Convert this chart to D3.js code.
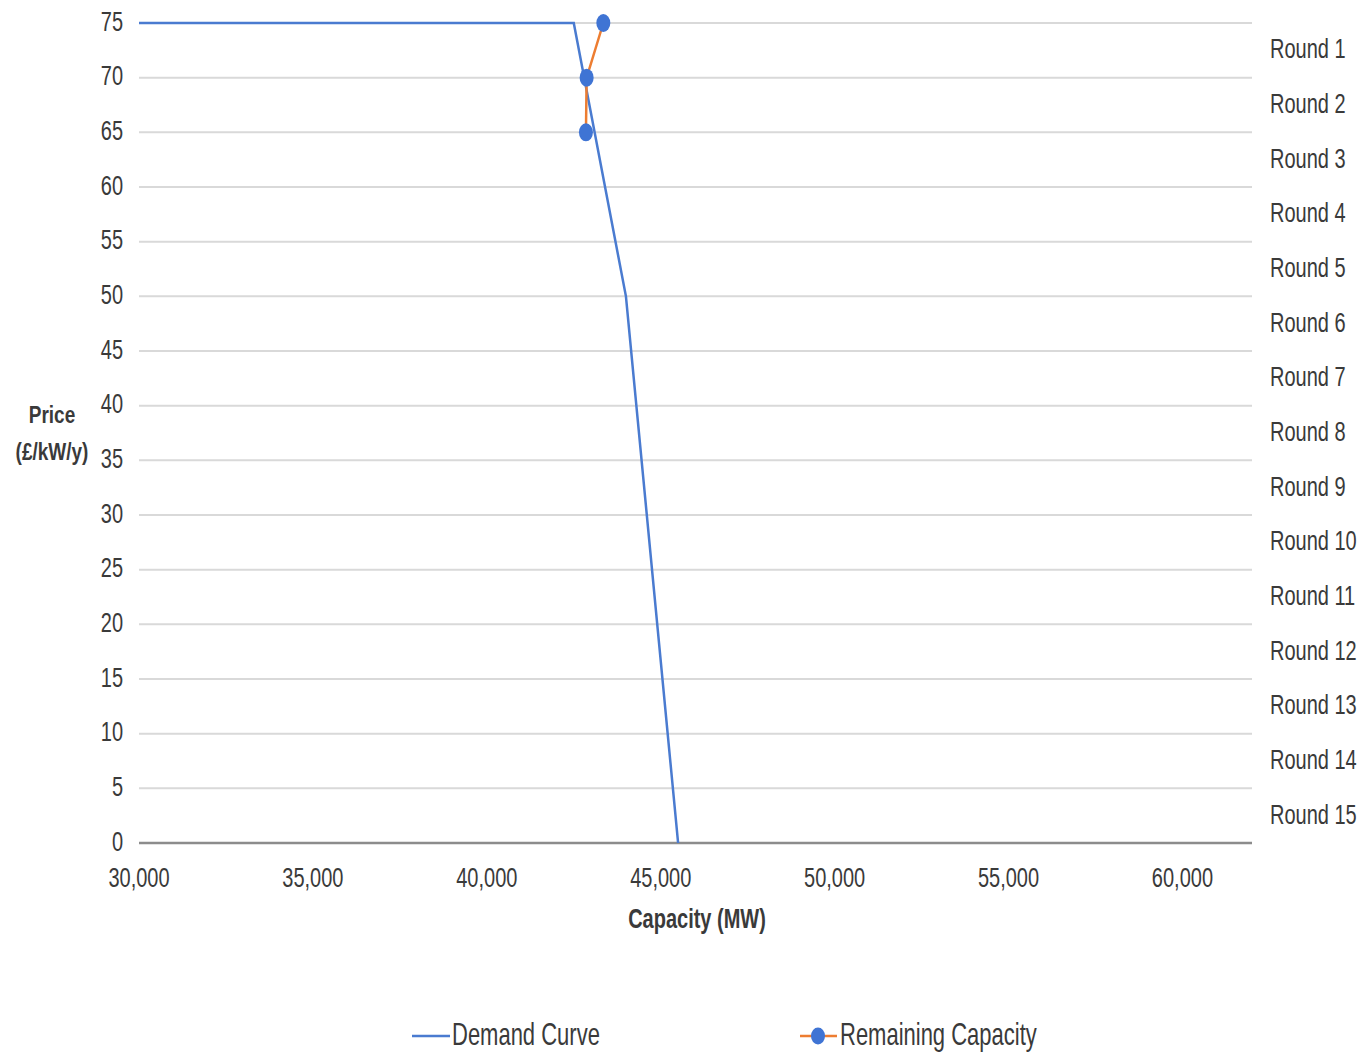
<!DOCTYPE html>
<html><head><meta charset="utf-8">
<script src="https://cdn.jsdelivr.net/npm/d3@7"></script>
<style>body{margin:0;background:#fff;} text{font-family:"Liberation Sans",Arial,sans-serif;fill:#3a3a3a;}</style>
</head><body>
<svg id="c" width="1361" height="1054"></svg>
<script>
const demandCapacity = [30000, 42500, 44000, 45500];
const demandPrice = [75, 75, 50, 0];
const remainingCapacity = [43350, 42870, 42850];
const remainingPrice = [75, 70, 65];
const yTicks = [0,5,10,15,20,25,30,35,40,45,50,55,60,65,70,75];
const xTicks = [30000,35000,40000,45000,50000,55000,60000];
const roundLabels = ["Round 1","Round 2","Round 3","Round 4","Round 5","Round 6","Round 7","Round 8","Round 9","Round 10","Round 11","Round 12","Round 13","Round 14","Round 15"];
const roundPrices = [72.5,67.5,62.5,57.5,52.5,47.5,42.5,37.5,32.5,27.5,22.5,17.5,12.5,7.5,2.5];

const svg = d3.select("#c");
const L=139, R=1252, T=23, B=843, SY=1.42;
const x = d3.scaleLinear().domain([30000,62000]).range([L,R]);
const y = d3.scaleLinear().domain([0,75]).range([B,T]);

function txt(g, xx, yy, s, opts){
  const t = g.append("text").attr("transform",`translate(${xx},${yy}) scale(1,${opts.sy||SY})`)
    .attr("font-size",opts.size).attr("text-anchor",opts.anchor||"start")
    .attr("font-weight",opts.weight||"normal").text(s);
  if(opts.fill) t.style("fill",opts.fill);
  return t;
}

// gridlines
svg.append("g").selectAll("line").data(yTicks.filter(d=>d>0)).join("line")
  .attr("x1",L).attr("x2",R).attr("y1",d=>y(d)).attr("y2",d=>y(d))
  .attr("stroke","#d9d9d9").attr("stroke-width",2);
svg.append("line").attr("x1",L).attr("x2",R).attr("y1",y(0)).attr("y2",y(0))
  .attr("stroke","#8c8c8c").attr("stroke-width",2.5);

// y tick labels
const gy = svg.append("g");
yTicks.forEach(d=> txt(gy, 123, y(d)+7.5, d3.format("d")(d), {size:20, anchor:"end"}));
// x tick labels
const gx = svg.append("g");
xTicks.forEach(d=> txt(gx, x(d), 887, d3.format(",")(d), {size:20, anchor:"middle"}));

// axis titles
const gt = svg.append("g");
txt(gt, 52, 423, "Price", {size:19, anchor:"middle", weight:"bold", sy:1.3});
txt(gt, 52, 460, "(£/kW/y)", {size:19, anchor:"middle", weight:"bold", sy:1.3});
txt(gt, 697, 928, "Capacity (MW)", {size:20, anchor:"middle", weight:"bold", sy:1.35});

// round labels
const gr = svg.append("g");
roundLabels.forEach((s,i)=> txt(gr, 1270, y(roundPrices[i])+8, s, {size:20}));

// demand curve
const line = d3.line().x(d=>x(d[0])).y(d=>y(d[1]));
svg.append("path").datum(d3.zip(demandCapacity, demandPrice)).attr("d",line)
  .attr("fill","none").attr("stroke","#4a7bd0").attr("stroke-width",2.5);

// remaining capacity
const rc = d3.zip(remainingCapacity, remainingPrice);
svg.append("path").datum(rc).attr("d",line)
  .attr("fill","none").attr("stroke","#ed7d31").attr("stroke-width",2.5);
svg.append("g").selectAll("ellipse").data(rc).join("ellipse")
  .attr("cx",d=>x(d[0])).attr("cy",d=>y(d[1])).attr("rx",7).attr("ry",9)
  .attr("fill","#3f74d4");

// legend
const lg = svg.append("g");
lg.append("line").attr("x1",412).attr("x2",450).attr("y1",1036).attr("y2",1036).attr("stroke","#4a7bd0").attr("stroke-width",2.5);
txt(lg, 452, 1045, "Demand Curve", {size:22});
lg.append("line").attr("x1",800).attr("x2",837).attr("y1",1036).attr("y2",1036).attr("stroke","#ed7d31").attr("stroke-width",2.5);
lg.append("ellipse").attr("cx",818).attr("cy",1036).attr("rx",7).attr("ry",8.5).attr("fill","#3f74d4");
txt(lg, 840, 1045, "Remaining Capacity", {size:22});
</script>
</body></html>
